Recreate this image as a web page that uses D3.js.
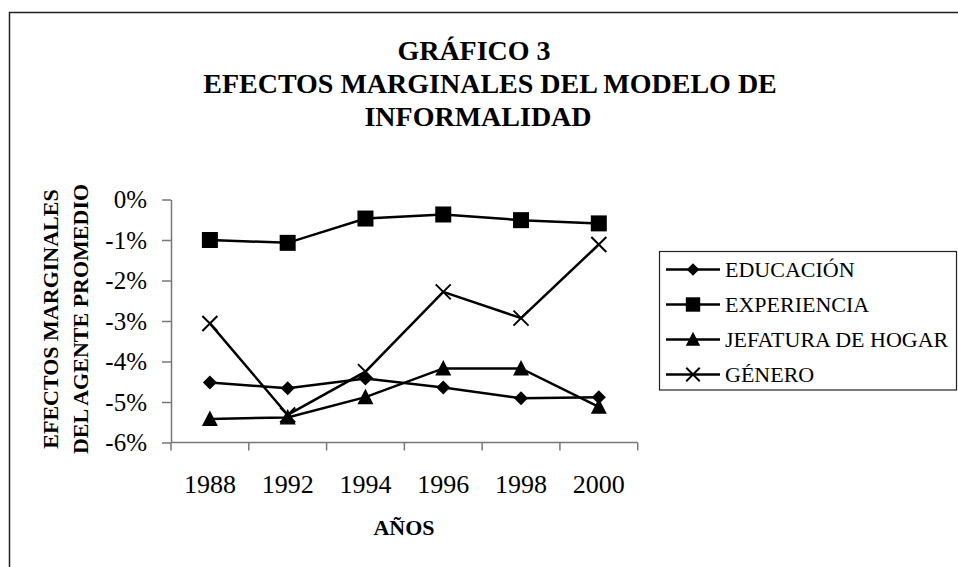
<!DOCTYPE html>
<html lang="es">
  <head>
    <meta charset="UTF-8" />
    <title>Gráfico 3</title>
    <script src="https://d3js.org/d3.v7.min.js"></script>
    <style>
      body { margin: 0; background: #fff; }
      svg text { font-family: "Liberation Serif", "Times New Roman", Times, serif; fill: #000; }
    </style>
  </head>
  <body>
    <div id="chart"></div>

    <script>
      // data (shares, e.g. -0.045 = -4.5%)
      const years = ["1988", "1992", "1994", "1996", "1998", "2000"];
      const educacion = [-0.0452, -0.0466, -0.0442, -0.0464, -0.0491, -0.0488];
      const experiencia = [-0.0100, -0.0107, -0.0047, -0.0037, -0.0051, -0.0059];
      const jefatura = [-0.0542, -0.0538, -0.0488, -0.0417, -0.0417, -0.0512];
      const genero = [-0.0306, -0.0532, -0.0425, -0.0228, -0.0293, -0.0111];
      const yTicks = [0, -0.01, -0.02, -0.03, -0.04, -0.05, -0.06];

      const series = [
        { name: "EDUCACIÓN", values: educacion, symbol: "diamond" },
        { name: "EXPERIENCIA", values: experiencia, symbol: "square" },
        { name: "JEFATURA DE HOGAR", values: jefatura, symbol: "triangle" },
        { name: "GÉNERO", values: genero, symbol: "cross" },
      ];

      const serif = "Liberation Serif, Times New Roman, serif";
      const W = 958, H = 567;
      const svg = d3.select("#chart").append("svg")
        .attr("width", W).attr("height", H)
        .attr("font-family", serif);

      // outer frame (runs off the right and bottom edges)
      svg.append("rect")
        .attr("x", 9.5).attr("y", 12.5)
        .attr("width", W + 20).attr("height", H + 20)
        .attr("fill", "none").attr("stroke", "#222").attr("stroke-width", 1.5);

      // title
      const titleLines = ["GRÁFICO 3", "EFECTOS MARGINALES DEL MODELO DE", "INFORMALIDAD"];
      const titleX = [474, 490, 478];
      svg.append("g").selectAll("text")
        .data(titleLines)
        .join("text")
        .attr("x", (d, i) => titleX[i])
        .attr("y", (d, i) => 60 + i * 33)
        .attr("text-anchor", "middle")
        .attr("font-family", serif)
        .attr("font-size", 28)
        .attr("font-weight", "bold")
        .text((d) => d);

      // scales
      const x = d3.scaleBand().domain(years).range([171, 637.7]).padding(0);
      const y = d3.scaleLinear().domain([-0.06, 0]).range([442.5, 199.5]);

      // y axis
      const yAxis = svg.append("g")
        .attr("transform", "translate(171,0)")
        .call(d3.axisLeft(y).tickValues(yTicks).tickSize(9).tickSizeOuter(0)
          .tickPadding(15).tickFormat((d) => Math.round(d * 100) + "%"));
      yAxis.attr("font-family", serif);
      yAxis.select(".domain").attr("stroke", "#777").attr("stroke-width", 1.5);
      yAxis.selectAll(".tick line").attr("stroke", "#777").attr("stroke-width", 1.5);
      yAxis.selectAll(".tick text")
        .attr("font-size", 25).attr("fill", "#000");

      // x axis: line, ticks between categories, labels at centres
      const xAxis = svg.append("g").attr("transform", "translate(0,442.5)");
      xAxis.append("line")
        .attr("x1", x.range()[0]).attr("x2", x.range()[1])
        .attr("stroke", "#777").attr("stroke-width", 1.5);
      const edges = years.map((d) => x(d)).concat([x.range()[1]]);
      xAxis.selectAll(".xt").data(edges).join("line")
        .attr("class", "xt")
        .attr("x1", (d) => d).attr("x2", (d) => d)
        .attr("y1", 0).attr("y2", 8)
        .attr("stroke", "#777").attr("stroke-width", 1.5);
      xAxis.selectAll(".xl").data(years).join("text")
        .attr("class", "xl")
        .attr("x", (d) => x(d) + x.bandwidth() / 2)
        .attr("y", 50)
        .attr("text-anchor", "middle")
        .attr("font-size", 26)
        .text((d) => d);

      // axis titles
      svg.append("text")
        .attr("x", 404).attr("y", 535)
        .attr("text-anchor", "middle")
        .attr("font-size", 22).attr("font-weight", "bold")
        .text("AÑOS");

      svg.append("g").selectAll("text")
        .data(["EFECTOS MARGINALES", "DEL AGENTE PROMEDIO"])
        .join("text")
        .attr("transform", (d, i) => `translate(${58 + i * 30},319) rotate(-90)`)
        .attr("text-anchor", "middle")
        .attr("font-size", 22).attr("font-weight", "bold")
        .text((d) => d);

      // marker shapes
      function drawMarker(g, symbol, s) {
        if (symbol === "diamond") {
          g.append("path").attr("d", `M0,${-7 * s}L${7 * s},0L0,${7 * s}L${-7 * s},0Z`).attr("fill", "#000");
        } else if (symbol === "square") {
          g.append("rect").attr("x", -8 * s).attr("y", -8 * s)
            .attr("width", 16 * s).attr("height", 16 * s).attr("fill", "#000");
        } else if (symbol === "triangle") {
          g.append("path").attr("d", `M0,${-8.5 * s}L${8 * s},${7 * s}L${-8 * s},${7 * s}Z`).attr("fill", "#000");
        } else {
          g.append("path").attr("d", `M${-7.5 * s},${-7.5 * s}L${7.5 * s},${7.5 * s}M${7.5 * s},${-7.5 * s}L${-7.5 * s},${7.5 * s}`)
            .attr("stroke", "#000").attr("stroke-width", 2).attr("fill", "none");
        }
      }

      const line = d3.line()
        .x((d, i) => x(years[i]) + x.bandwidth() / 2)
        .y((d) => y(d));

      series.forEach((s) => {
        svg.append("path")
          .datum(s.values)
          .attr("d", line)
          .attr("fill", "none")
          .attr("stroke", "#000")
          .attr("stroke-width", 2.5);
      });
      series.forEach((s) => {
        s.values.forEach((v, i) => {
          const g = svg.append("g")
            .attr("transform", `translate(${x(years[i]) + x.bandwidth() / 2},${y(v)})`);
          drawMarker(g, s.symbol, 1);
        });
      });

      // legend
      const legend = svg.append("g");
      legend.append("rect")
        .attr("x", 659.5).attr("y", 251.5)
        .attr("width", 297).attr("height", 138.5)
        .attr("fill", "#fff").attr("stroke", "#222").attr("stroke-width", 1.2);
      const items = legend.selectAll(".li").data(series).join("g")
        .attr("class", "li")
        .attr("transform", (d, i) => `translate(0,${269.5 + i * 35})`);
      items.append("line")
        .attr("x1", 666).attr("x2", 720)
        .attr("stroke", "#000").attr("stroke-width", 2.5);
      items.each(function (d) {
        const g = d3.select(this).append("g").attr("transform", "translate(693,0)");
        drawMarker(g, d.symbol, 0.9);
      });
      items.append("text")
        .attr("x", 725).attr("y", 7.5)
        .attr("font-family", serif)
        .attr("font-size", 22)
        .text((d) => d.name);
    </script>
  </body>
</html>
